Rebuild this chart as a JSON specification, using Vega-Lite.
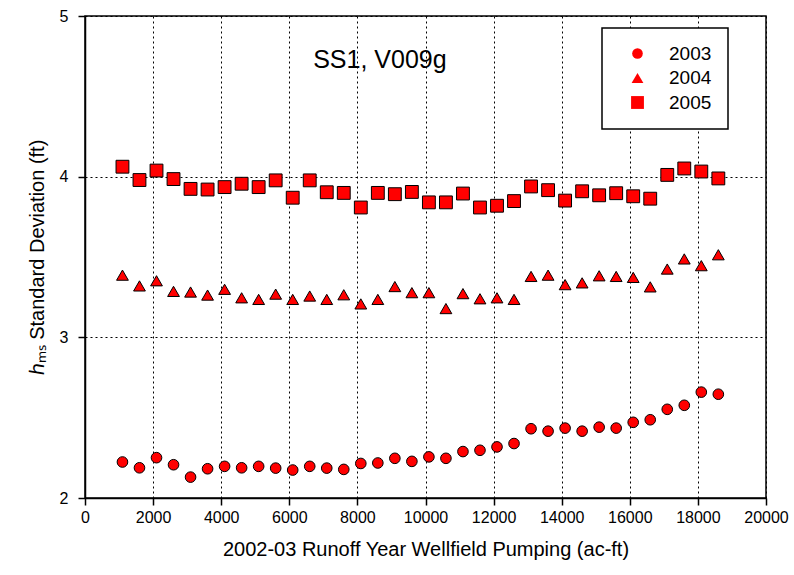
{
  "$schema": "https://vega.github.io/schema/vega-lite/v6.json",
  "width": 681,
  "height": 482,
  "autosize": {"type": "none"},
  "padding": {"left": 85, "top": 16, "right": 28, "bottom": 77},
  "background": "white",
  "config": {
    "font": "Liberation Sans",
    "view": {"stroke": "black", "strokeWidth": 1.5},
    "axis": {
      "domainColor": "black",
      "domainWidth": 1.5,
      "tickColor": "black",
      "tickWidth": 1.5,
      "tickSize": 7,
      "labelColor": "black",
      "labelFontSize": 16,
      "labelOverlap": false,
      "labelFlush": false,
      "titleColor": "black",
      "titleFontSize": 20,
      "titleFontWeight": "normal",
      "grid": true,
      "gridColor": "black",
      "gridDash": [2, 3],
      "gridWidth": 1,
      "gridOpacity": 1
    },
    "legend": {
      "orient": "none",
      "legendX": 517,
      "legendY": 12,
      "strokeColor": "black",
      "strokeWidth": 1.5,
      "fillColor": "white",
      "padding": 16,
      "symbolOffset": 10,
      "labelOffset": 22,
      "rowPadding": 4.5,
      "labelFontSize": 19,
      "labelColor": "black",
      "symbolFillColor": "#ff0000",
      "symbolStrokeColor": "black",
      "symbolStrokeWidth": 1,
      "symbolOpacity": 1
    }
  },
  "layer": [
    {
      "data": {
        "values": [
          {"x": 1100, "v": 2.224, "year": "2003"},
          {"x": 1600, "v": 2.188, "year": "2003"},
          {"x": 2100, "v": 2.251, "year": "2003"},
          {"x": 2600, "v": 2.207, "year": "2003"},
          {"x": 3100, "v": 2.130, "year": "2003"},
          {"x": 3600, "v": 2.182, "year": "2003"},
          {"x": 4100, "v": 2.197, "year": "2003"},
          {"x": 4600, "v": 2.188, "year": "2003"},
          {"x": 5100, "v": 2.197, "year": "2003"},
          {"x": 5600, "v": 2.186, "year": "2003"},
          {"x": 6100, "v": 2.174, "year": "2003"},
          {"x": 6600, "v": 2.197, "year": "2003"},
          {"x": 7100, "v": 2.186, "year": "2003"},
          {"x": 7600, "v": 2.178, "year": "2003"},
          {"x": 8100, "v": 2.215, "year": "2003"},
          {"x": 8600, "v": 2.218, "year": "2003"},
          {"x": 9100, "v": 2.247, "year": "2003"},
          {"x": 9600, "v": 2.228, "year": "2003"},
          {"x": 10100, "v": 2.256, "year": "2003"},
          {"x": 10600, "v": 2.247, "year": "2003"},
          {"x": 11100, "v": 2.289, "year": "2003"},
          {"x": 11600, "v": 2.297, "year": "2003"},
          {"x": 12100, "v": 2.318, "year": "2003"},
          {"x": 12600, "v": 2.339, "year": "2003"},
          {"x": 13100, "v": 2.431, "year": "2003"},
          {"x": 13600, "v": 2.416, "year": "2003"},
          {"x": 14100, "v": 2.435, "year": "2003"},
          {"x": 14600, "v": 2.416, "year": "2003"},
          {"x": 15100, "v": 2.441, "year": "2003"},
          {"x": 15600, "v": 2.435, "year": "2003"},
          {"x": 16100, "v": 2.471, "year": "2003"},
          {"x": 16600, "v": 2.487, "year": "2003"},
          {"x": 17100, "v": 2.552, "year": "2003"},
          {"x": 17600, "v": 2.577, "year": "2003"},
          {"x": 18100, "v": 2.659, "year": "2003"},
          {"x": 18600, "v": 2.646, "year": "2003"},
          {"x": 1100, "v": 3.387, "year": "2004"},
          {"x": 1600, "v": 3.320, "year": "2004"},
          {"x": 2100, "v": 3.352, "year": "2004"},
          {"x": 2600, "v": 3.286, "year": "2004"},
          {"x": 3100, "v": 3.282, "year": "2004"},
          {"x": 3600, "v": 3.263, "year": "2004"},
          {"x": 4100, "v": 3.299, "year": "2004"},
          {"x": 4600, "v": 3.246, "year": "2004"},
          {"x": 5100, "v": 3.236, "year": "2004"},
          {"x": 5600, "v": 3.269, "year": "2004"},
          {"x": 6100, "v": 3.236, "year": "2004"},
          {"x": 6600, "v": 3.257, "year": "2004"},
          {"x": 7100, "v": 3.236, "year": "2004"},
          {"x": 7600, "v": 3.265, "year": "2004"},
          {"x": 8100, "v": 3.208, "year": "2004"},
          {"x": 8600, "v": 3.236, "year": "2004"},
          {"x": 9100, "v": 3.316, "year": "2004"},
          {"x": 9600, "v": 3.278, "year": "2004"},
          {"x": 10100, "v": 3.278, "year": "2004"},
          {"x": 10600, "v": 3.179, "year": "2004"},
          {"x": 11100, "v": 3.272, "year": "2004"},
          {"x": 11600, "v": 3.240, "year": "2004"},
          {"x": 12100, "v": 3.246, "year": "2004"},
          {"x": 12600, "v": 3.236, "year": "2004"},
          {"x": 13100, "v": 3.379, "year": "2004"},
          {"x": 13600, "v": 3.387, "year": "2004"},
          {"x": 14100, "v": 3.328, "year": "2004"},
          {"x": 14600, "v": 3.339, "year": "2004"},
          {"x": 15100, "v": 3.383, "year": "2004"},
          {"x": 15600, "v": 3.379, "year": "2004"},
          {"x": 16100, "v": 3.373, "year": "2004"},
          {"x": 16600, "v": 3.314, "year": "2004"},
          {"x": 17100, "v": 3.425, "year": "2004"},
          {"x": 17600, "v": 3.488, "year": "2004"},
          {"x": 18100, "v": 3.446, "year": "2004"},
          {"x": 18600, "v": 3.514, "year": "2004"},
          {"x": 1100, "v": 4.062, "year": "2005"},
          {"x": 1600, "v": 3.979, "year": "2005"},
          {"x": 2100, "v": 4.038, "year": "2005"},
          {"x": 2600, "v": 3.985, "year": "2005"},
          {"x": 3100, "v": 3.924, "year": "2005"},
          {"x": 3600, "v": 3.920, "year": "2005"},
          {"x": 4100, "v": 3.935, "year": "2005"},
          {"x": 4600, "v": 3.956, "year": "2005"},
          {"x": 5100, "v": 3.935, "year": "2005"},
          {"x": 5600, "v": 3.977, "year": "2005"},
          {"x": 6100, "v": 3.869, "year": "2005"},
          {"x": 6600, "v": 3.977, "year": "2005"},
          {"x": 7100, "v": 3.903, "year": "2005"},
          {"x": 7600, "v": 3.899, "year": "2005"},
          {"x": 8100, "v": 3.808, "year": "2005"},
          {"x": 8600, "v": 3.899, "year": "2005"},
          {"x": 9100, "v": 3.891, "year": "2005"},
          {"x": 9600, "v": 3.905, "year": "2005"},
          {"x": 10100, "v": 3.840, "year": "2005"},
          {"x": 10600, "v": 3.840, "year": "2005"},
          {"x": 11100, "v": 3.895, "year": "2005"},
          {"x": 11600, "v": 3.808, "year": "2005"},
          {"x": 12100, "v": 3.819, "year": "2005"},
          {"x": 12600, "v": 3.848, "year": "2005"},
          {"x": 13100, "v": 3.939, "year": "2005"},
          {"x": 13600, "v": 3.916, "year": "2005"},
          {"x": 14100, "v": 3.851, "year": "2005"},
          {"x": 14600, "v": 3.909, "year": "2005"},
          {"x": 15100, "v": 3.884, "year": "2005"},
          {"x": 15600, "v": 3.897, "year": "2005"},
          {"x": 16100, "v": 3.878, "year": "2005"},
          {"x": 16600, "v": 3.863, "year": "2005"},
          {"x": 17100, "v": 4.011, "year": "2005"},
          {"x": 17600, "v": 4.051, "year": "2005"},
          {"x": 18100, "v": 4.032, "year": "2005"},
          {"x": 18600, "v": 3.989, "year": "2005"}
        ]
      },
      "mark": {"type": "point", "filled": true, "fill": "#ff0000", "stroke": "black", "strokeWidth": 1, "opacity": 1, "fillOpacity": 1, "strokeOpacity": 1},
      "encoding": {
        "x": {
          "field": "x", "type": "quantitative",
          "scale": {"domain": [0, 20000], "nice": false, "zero": false},
          "axis": {
            "values": [0, 2000, 4000, 6000, 8000, 10000, 12000, 14000, 16000, 18000, 20000],
            "format": "d",
            "labelPadding": 4,
            "title": "2002-03 Runoff Year Wellfield Pumping (ac-ft)",
            "titlePadding": 14
          }
        },
        "y": {
          "field": "v", "type": "quantitative",
          "scale": {"domain": [2, 5], "nice": false, "zero": false},
          "axis": {
            "values": [2, 3, 4, 5],
            "format": "d",
            "labelPadding": 10,
            "title": "ℎₘₛ Standard Deviation (ft)",
            "titlePadding": 12
          }
        },
        "shape": {
          "field": "year", "type": "nominal",
          "scale": {"domain": ["2003", "2004", "2005"], "range": ["circle", "triangle-up", "square"]},
          "legend": {
            "title": null,
            "encode": {"symbols": {"update": {"stroke": {"value": "black"}, "strokeWidth": {"value": 1}, "fill": {"value": "#ff0000"}, "opacity": {"value": 1}}}}
          }
        },
        "size": {
          "field": "year", "type": "nominal",
          "scale": {"domain": ["2003", "2004", "2005"], "range": [113, 165, 144]},
          "legend": {
            "title": null,
            "encode": {"symbols": {"update": {"stroke": {"value": "black"}, "strokeWidth": {"value": 1}, "fill": {"value": "#ff0000"}, "opacity": {"value": 1}}}}
          }
        }
      }
    },
    {
      "data": {"values": [{"x": 8660, "v": 4.726, "label": "SS1, V009g"}]},
      "mark": {"type": "text", "fontSize": 25, "color": "black", "align": "center", "baseline": "middle"},
      "encoding": {
        "x": {"field": "x", "type": "quantitative"},
        "y": {"field": "v", "type": "quantitative"},
        "text": {"field": "label"}
      }
    }
  ]
}
